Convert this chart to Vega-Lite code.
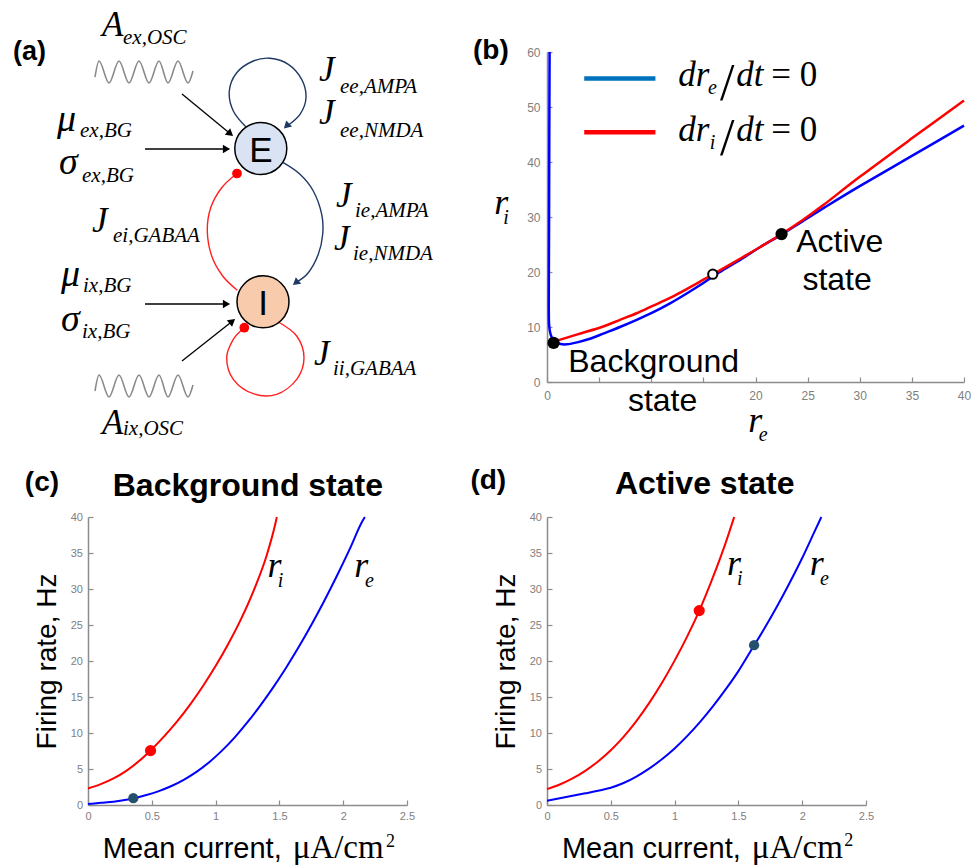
{
"$schema": "https://vega.github.io/schema/vega-lite/v6.json",
"background": "white",
"padding": {"left": 13, "top": 8, "right": 0, "bottom": 0},
"columns": 2,
"align": "none",
"bounds": "flush",
"spacing": {"row": 135, "column": 140},
"config": {
  "view": {"stroke": null},
  "font": "Liberation Sans",
  "axis": {"grid": false, "domainColor": "#8c8c8c", "domainWidth": 1.5, "tickColor": "#8c8c8c", "tickWidth": 1.2, "tickSize": -5, "labelColor": "#808080", "labelFont": "Liberation Sans", "labelFontSize": 11, "labelPadding": 10.5, "labelFlush": false, "labelOverlap": false}
},
"concat": [
{
  "width": 318, "height": 330,
  "encoding": {
    "x": {"field":"x","type":"quantitative","scale":{"domain":[88,406],"nice":false,"zero":false},"axis":null},
    "y": {"field":"y","type":"quantitative","scale":{"domain":[51,381],"nice":false,"zero":false,"reverse":true},"axis":null}
  },
  "layer": [
    {"data": {"values": [
      {"w":"top","x":95,"y":76},{"w":"top","x":99,"y":60},{"w":"top","x":109,"y":82},{"w":"top","x":119,"y":60},{"w":"top","x":129,"y":82},{"w":"top","x":139,"y":60},{"w":"top","x":149,"y":82},{"w":"top","x":159,"y":60},{"w":"top","x":168,"y":82},{"w":"top","x":178,"y":60},{"w":"top","x":188,"y":82},{"w":"top","x":193,"y":70},
      {"w":"bot","x":95,"y":390},{"w":"bot","x":99,"y":374},{"w":"bot","x":109,"y":396},{"w":"bot","x":119,"y":374},{"w":"bot","x":129,"y":396},{"w":"bot","x":139,"y":374},{"w":"bot","x":149,"y":396},{"w":"bot","x":159,"y":374},{"w":"bot","x":168,"y":396},{"w":"bot","x":178,"y":374},{"w":"bot","x":188,"y":396},{"w":"bot","x":193,"y":384}
    ]},
     "mark": {"type": "line", "interpolate": "monotone", "stroke": "#8a8a8a", "strokeWidth": 1.6},
     "encoding": {"detail": {"field":"w"}}},
    {"data": {"values": [
      {"link":"ee","i":0,"x":246.7,"y":126.7},{"link":"ee","i":1,"x":233.3,"y":110},{"link":"ee","i":2,"x":229.3,"y":90},{"link":"ee","i":3,"x":236.7,"y":71.7},{"link":"ee","i":4,"x":253.3,"y":60},{"link":"ee","i":5,"x":270,"y":57.3},{"link":"ee","i":6,"x":288.3,"y":63.3},{"link":"ee","i":7,"x":301.7,"y":78.3},{"link":"ee","i":8,"x":306,"y":96.7},{"link":"ee","i":9,"x":300,"y":113.3},{"link":"ee","i":10,"x":287,"y":125},
      {"link":"ie","i":0,"x":283.3,"y":161.7},{"link":"ie","i":1,"x":300,"y":173.3},{"link":"ie","i":2,"x":313.3,"y":190},{"link":"ie","i":3,"x":321.7,"y":213.3},{"link":"ie","i":4,"x":322.7,"y":233.3},{"link":"ie","i":5,"x":318.3,"y":253.3},{"link":"ie","i":6,"x":308.3,"y":271.7},{"link":"ie","i":7,"x":296,"y":281.5}
    ]},
     "mark": {"type": "line", "interpolate": "cardinal", "stroke": "#1f3864", "strokeWidth": 1.4},
     "encoding": {"detail": {"field":"link"}, "order": {"field":"i"}}},
    {"data": {"values": [
      {"link":"ei","i":0,"x":237.3,"y":289.3},{"link":"ei","i":1,"x":222.7,"y":275},{"link":"ei","i":2,"x":211.7,"y":255},{"link":"ei","i":3,"x":207.3,"y":230},{"link":"ei","i":4,"x":210.7,"y":206.7},{"link":"ei","i":5,"x":221.7,"y":186.7},{"link":"ei","i":6,"x":237,"y":172.5},
      {"link":"ii","i":0,"x":244.3,"y":326.7},{"link":"ii","i":1,"x":233.3,"y":338.3},{"link":"ii","i":2,"x":226.7,"y":356.7},{"link":"ii","i":3,"x":233.3,"y":378.3},{"link":"ii","i":4,"x":253.3,"y":392.7},{"link":"ii","i":5,"x":276.7,"y":393.3},{"link":"ii","i":6,"x":296.7,"y":378.3},{"link":"ii","i":7,"x":304,"y":356.7},{"link":"ii","i":8,"x":296.7,"y":335},{"link":"ii","i":9,"x":278.3,"y":321}
    ]},
     "mark": {"type": "line", "interpolate": "cardinal", "stroke": "#ff2020", "strokeWidth": 1.4},
     "encoding": {"detail": {"field":"link"}, "order": {"field":"i"}}},
    {"data": {"values": [
      {"x":182,"y":93,"x2":230.3,"y2":132.8},
      {"x":145,"y":148,"x2":226.5,"y2":148},
      {"x":145,"y":303,"x2":226.5,"y2":303},
      {"x":182,"y":360,"x2":232.3,"y2":320.2}
    ]},
     "mark": {"type": "rule", "stroke": "black", "strokeWidth": 1.3},
     "encoding": {"x2": {"field":"x2"}, "y2": {"field":"y2"}}},
    {"data": {"values": [
      {"x":230.3,"y":132.8,"dir":129.5},
      {"x":226.5,"y":148,"dir":90},
      {"x":226.5,"y":303,"dir":90},
      {"x":232.3,"y":320.2,"dir":51.6}
    ]},
     "mark": {"type": "point", "shape": "triangle-up", "filled": true, "fill": "black", "size": 70, "opacity": 1},
     "encoding": {"angle": {"field":"dir","type":"quantitative","scale":null}}},
    {"data": {"values": [
      {"x":286.5,"y":125.1,"dir":226.3},
      {"x":295.7,"y":281.8,"dir":230.4}
    ]},
     "mark": {"type": "point", "shape": "triangle-up", "filled": true, "fill": "#1f3864", "size": 70, "opacity": 1},
     "encoding": {"angle": {"field":"dir","type":"quantitative","scale":null}}},
    {"data": {"values": [{"x":237,"y":172.5},{"x":244.3,"y":326.7}]},
     "mark": {"type": "circle", "fill": "#ff0000", "size": 95, "opacity": 1}},
    {"data": {"values": [{"node":"E","x":260.8,"y":147.5},{"node":"I","x":263,"y":300.8}]},
     "mark": {"type": "point", "shape": "circle", "filled": true, "size": 2704, "stroke": "black", "strokeWidth": 1.5, "opacity": 1},
     "encoding": {"fill": {"field":"node","type":"nominal","scale":{"domain":["E","I"],"range":["#dae3f3","#f8cbad"]},"legend":null}}},
    {"data": {"values": [{"node":"E","x":260.8,"y":147.5},{"node":"I","x":263,"y":300.8}]},
     "mark": {"type": "text", "font": "Liberation Sans", "fontSize": 35, "align": "center", "baseline": "middle", "fill": "black", "dy": 2},
     "encoding": {"text": {"field":"node"}}},
    {"data": {"values": [
      {"t":"A","x":102,"y":35},{"t":"J","x":319,"y":80},{"t":"J","x":319,"y":123},
      {"t":"J","x":92,"y":231},{"t":"J","x":336,"y":206},{"t":"J","x":334,"y":249},
      {"t":"J","x":314,"y":364},{"t":"A","x":102,"y":433}
    ]},
     "mark": {"type": "text", "font": "Liberation Serif", "fontStyle": "italic", "fontSize": 35, "align": "left", "baseline": "alphabetic", "fill": "black"},
     "encoding": {"text": {"field":"t"}}},
    {"data": {"values": [
      {"t":"μ","x":57,"y":130},{"t":"σ","x":59,"y":173},{"t":"μ","x":61,"y":285},{"t":"σ","x":61,"y":330}
    ]},
     "mark": {"type": "text", "font": "Liberation Serif", "fontStyle": "italic", "fontSize": 38, "align": "left", "baseline": "alphabetic", "fill": "black"},
     "encoding": {"text": {"field":"t"}}},
    {"data": {"values": [
      {"t":"ex,OSC","x":123,"y":43},{"t":"ee,AMPA","x":340,"y":92},{"t":"ee,NMDA","x":340,"y":136},{"t":"ex,BG","x":80,"y":136},{"t":"ex,BG","x":82,"y":181},
      {"t":"ei,GABAA","x":113,"y":241},{"t":"ie,AMPA","x":355,"y":216},{"t":"ie,NMDA","x":353,"y":259},{"t":"ix,BG","x":83,"y":291},{"t":"ix,BG","x":82,"y":337},
      {"t":"ii,GABAA","x":333,"y":374},{"t":"ix,OSC","x":123,"y":434}
    ]},
     "mark": {"type": "text", "font": "Liberation Serif", "fontStyle": "italic", "fontSize": 21, "align": "left", "baseline": "alphabetic", "fill": "black"},
     "encoding": {"text": {"field":"t"}}},
    {"data": {"values": [{"t":"(a)","x":13,"y":59}]},
     "mark": {"type": "text", "font": "Liberation Sans", "fontWeight": "bold", "fontSize": 27, "align": "left", "baseline": "alphabetic", "fill": "black"},
     "encoding": {"text": {"field":"t"}}}
  ]
},
{
  "width": 417, "height": 330,
  "encoding": {
    "x": {"field":"x","type":"quantitative","scale":{"domain":[0,40],"nice":false,"zero":false},"axis":{"values":[0,5,10,15,20,25,30,35,40],"labelExpr":"datum.value==5||datum.value==10||datum.value==15 ? '' : datum.label","title":null,"labelFontSize":12,"labelPadding":13}},
    "y": {"field":"y","type":"quantitative","scale":{"domain":[0,60],"nice":false,"zero":false},"axis":{"values":[0,10,20,30,40,50,60],"title":null,"labelFontSize":12,"labelPadding":12}}
  },
  "layer": [
    {"data": {"values": [
      {"s":"e","i":0,"x":0.25,"y":60},{"s":"e","i":1,"x":0.22,"y":45},{"s":"e","i":2,"x":0.2,"y":30},{"s":"e","i":3,"x":0.18,"y":20},{"s":"e","i":4,"x":0.17,"y":14},{"s":"e","i":5,"x":0.2,"y":10.5},{"s":"e","i":6,"x":0.35,"y":8.6},{"s":"e","i":7,"x":0.7,"y":7.4},{"s":"e","i":8,"x":1.2,"y":6.95},{"s":"e","i":9,"x":1.9,"y":6.85},{"s":"e","i":10,"x":3,"y":7.25},{"s":"e","i":11,"x":4.2,"y":7.9},{"s":"e","i":12,"x":5.4,"y":8.8},{"s":"e","i":13,"x":7,"y":10},{"s":"e","i":14,"x":8.6,"y":11.3},{"s":"e","i":15,"x":10.2,"y":12.7},{"s":"e","i":16,"x":11.8,"y":14.3},{"s":"e","i":17,"x":13.4,"y":16.1},{"s":"e","i":18,"x":15,"y":18},{"s":"e","i":19,"x":16.5,"y":19.9},{"s":"e","i":20,"x":18.6,"y":22.3},{"s":"e","i":21,"x":20.5,"y":24.6},{"s":"e","i":22,"x":22.5,"y":26.8},{"s":"e","i":23,"x":24.5,"y":29.2},{"s":"e","i":24,"x":26.6,"y":31.7},{"s":"e","i":25,"x":30,"y":35.6},{"s":"e","i":26,"x":35,"y":41.1},{"s":"e","i":27,"x":40,"y":46.6},
      {"s":"i","i":0,"x":0.3,"y":7.15},{"s":"i","i":1,"x":1.2,"y":7.65},{"s":"i","i":2,"x":3,"y":8.7},{"s":"i","i":3,"x":5.4,"y":10.1},{"s":"i","i":4,"x":7,"y":11.3},{"s":"i","i":5,"x":8.6,"y":12.5},{"s":"i","i":6,"x":10.2,"y":13.9},{"s":"i","i":7,"x":11.8,"y":15.3},{"s":"i","i":8,"x":13.4,"y":16.9},{"s":"i","i":9,"x":15,"y":18.6},{"s":"i","i":10,"x":16.5,"y":20.2},{"s":"i","i":11,"x":18.6,"y":22.5},{"s":"i","i":12,"x":20.5,"y":24.6},{"s":"i","i":13,"x":22.5,"y":26.9},{"s":"i","i":14,"x":24.5,"y":29.4},{"s":"i","i":15,"x":26.6,"y":32.3},{"s":"i","i":16,"x":30,"y":37.3},{"s":"i","i":17,"x":35,"y":44.3},{"s":"i","i":18,"x":40,"y":51.2}
    ]},
     "mark": {"type": "line", "interpolate": "cardinal", "strokeWidth": 2.5},
     "encoding": {
       "color": {"field":"s","type":"nominal","scale":{"domain":["e","i"],"range":["#0000ff","#ff0000"]},"legend":null},
       "order": {"field":"i"}
     }},
    {"data": {"values": [{"x":3.57,"x2":10.4,"y":55.2}]},
     "mark": {"type": "rule", "stroke": "#0072bd", "strokeWidth": 4.5},
     "encoding": {"x2": {"field":"x2"}}},
    {"data": {"values": [{"x":3.57,"x2":10.4,"y":45.4}]},
     "mark": {"type": "rule", "stroke": "#ff0000", "strokeWidth": 4.5},
     "encoding": {"x2": {"field":"x2"}}},
    {"data": {"values": [{"x":0.63,"y":7.1},{"x":22.5,"y":26.9}]},
     "mark": {"type": "circle", "fill": "black", "size": 150, "opacity": 1}},
    {"data": {"values": [{"x":15.9,"y":19.6}]},
     "mark": {"type": "point", "shape": "circle", "filled": true, "fill": "white", "stroke": "black", "strokeWidth": 2, "size": 85, "opacity": 1}},
    {"data": {"values": [{"t":"Background","x":2.04,"y":1.8},{"t":"state","x":7.76,"y":-5.2},{"t":"Active","x":23.9,"y":23.7},{"t":"state","x":24.5,"y":16.8}]},
     "mark": {"type":"text","font":"Liberation Sans","fontSize":32,"align":"left","baseline":"alphabetic","fill":"black"},
     "encoding": {"text": {"field":"t"}}},
    {"data": {"values": [{"t":"(b)","x":-7.1,"y":58.8}]},
     "mark": {"type":"text","font":"Liberation Sans","fontWeight":"bold","fontSize":28,"align":"left","baseline":"alphabetic","fill":"black"},
     "encoding": {"text": {"field":"t"}}},
    {"data": {"values": [{"t":"r","x":-5.06,"y":30.5},{"t":"r","x":19.3,"y":-9.0}]},
     "mark": {"type":"text","font":"Liberation Serif","fontStyle":"italic","fontSize":36,"align":"left","baseline":"alphabetic","fill":"black"},
     "encoding": {"text": {"field":"t"}}},
    {"data": {"values": [{"t":"i","x":-4.2,"y":28.7},{"t":"e","x":20.3,"y":-10.8},{"t":"e","x":15.45,"y":52.3},{"t":"i","x":15.6,"y":42.3}]},
     "mark": {"type":"text","font":"Liberation Serif","fontStyle":"italic","fontSize":20,"align":"left","baseline":"alphabetic","fill":"black"},
     "encoding": {"text": {"field":"t"}}},
    {"data": {"values": [{"t":"dr","x":12.6,"y":53.8},{"t":"dt","x":18.15,"y":53.8},{"t":"dr","x":12.6,"y":43.8},{"t":"dt","x":18.15,"y":43.8}]},
     "mark": {"type":"text","font":"Liberation Serif","fontStyle":"italic","fontSize":35,"align":"left","baseline":"alphabetic","fill":"black"},
     "encoding": {"text": {"field":"t"}}},
    {"data": {"values": [{"t":"= 0","x":21.5,"y":53.8},{"t":"= 0","x":21.5,"y":43.8}]},
     "mark": {"type":"text","font":"Liberation Serif","fontSize":35,"align":"left","baseline":"alphabetic","fill":"black"},
     "encoding": {"text": {"field":"t"}}},
    {"data": {"values": [{"t":"/","x":16.6,"y":51.2},{"t":"/","x":16.6,"y":41.2}]},
     "mark": {"type":"text","font":"Liberation Serif","fontSize":52,"align":"left","baseline":"alphabetic","fill":"black"},
     "encoding": {"text": {"field":"t"}}}
  ]
},
{
  "width": 319, "height": 288,
  "encoding": {
    "x": {"field":"x","type":"quantitative","scale":{"domain":[0,2.5],"nice":false,"zero":false},"axis":{"values":[0,0.5,1,1.5,2,2.5],"format":"~g","title":null}},
    "y": {"field":"y","type":"quantitative","scale":{"domain":[0,40],"nice":false,"zero":false},"axis":{"values":[0,5,10,15,20,25,30,35,40],"title":"Firing rate, Hz","titleFont":"Liberation Sans","titleFontSize":28,"titleFontWeight":"normal","titleColor":"black","titlePadding":9}}
  },
  "layer": [
    {"data": {"values": [
      {"s":"i","x":0,"y":2.3},{"s":"i","x":0.1,"y":2.9},{"s":"i","x":0.2,"y":3.7},{"s":"i","x":0.3,"y":4.75},{"s":"i","x":0.4,"y":6.1},{"s":"i","x":0.5,"y":7.75},{"s":"i","x":0.6,"y":9.6},{"s":"i","x":0.7,"y":11.65},{"s":"i","x":0.8,"y":13.95},{"s":"i","x":0.9,"y":16.5},{"s":"i","x":1.0,"y":19.3},{"s":"i","x":1.1,"y":22.4},{"s":"i","x":1.2,"y":25.85},{"s":"i","x":1.3,"y":29.85},{"s":"i","x":1.4,"y":34.65},{"s":"i","x":1.47,"y":39.2},{"s":"i","x":1.48,"y":40},
      {"s":"e","x":0,"y":0.15},{"s":"e","x":0.1,"y":0.3},{"s":"e","x":0.2,"y":0.45},{"s":"e","x":0.3,"y":0.72},{"s":"e","x":0.36,"y":0.95},{"s":"e","x":0.45,"y":1.35},{"s":"e","x":0.55,"y":1.9},{"s":"e","x":0.65,"y":2.6},{"s":"e","x":0.75,"y":3.5},{"s":"e","x":0.85,"y":4.6},{"s":"e","x":0.95,"y":5.95},{"s":"e","x":1.05,"y":7.55},{"s":"e","x":1.15,"y":9.4},{"s":"e","x":1.25,"y":11.5},{"s":"e","x":1.35,"y":13.8},{"s":"e","x":1.45,"y":16.3},{"s":"e","x":1.55,"y":19.0},{"s":"e","x":1.65,"y":21.9},{"s":"e","x":1.75,"y":25.0},{"s":"e","x":1.85,"y":28.3},{"s":"e","x":1.95,"y":31.8},{"s":"e","x":2.05,"y":35.5},{"s":"e","x":2.15,"y":39.4},{"s":"e","x":2.17,"y":40}
    ]},
     "mark": {"type": "line", "interpolate": "monotone", "strokeWidth": 2},
     "encoding": {"color": {"field":"s","type":"nominal","scale":{"domain":["e","i"],"range":["#0000ff","#ff0000"]},"legend":null}}},
    {"data": {"values": [{"x":0.49,"y":7.55}]},
     "mark": {"type": "circle", "size": 125, "fill": "#ff0000", "opacity": 1}},
    {"data": {"values": [{"x":0.355,"y":0.95}]},
     "mark": {"type": "circle", "size": 105, "fill": "#24506e", "opacity": 1}},
    {"data": {"values": [{"t":"(c)","x":-0.495,"y":43.6}]},
     "mark": {"type":"text","font":"Liberation Sans","fontWeight":"bold","fontSize":28,"align":"left","baseline":"alphabetic","fill":"black"},
     "encoding": {"text": {"field":"t"}}},
    {"data": {"values": [{"t":"Background state","x":1.253,"y":42.9}]},
     "mark": {"type":"text","font":"Liberation Sans","fontWeight":"bold","fontSize":32,"align":"center","baseline":"alphabetic","fill":"black"},
     "encoding": {"text": {"field":"t"}}},
    {"data": {"values": [{"t":"r","x":1.406,"y":31.7},{"t":"r","x":2.087,"y":31.7}]},
     "mark": {"type":"text","font":"Liberation Serif","fontStyle":"italic","fontSize":36,"align":"left","baseline":"alphabetic","fill":"black"},
     "encoding": {"text": {"field":"t"}}},
    {"data": {"values": [{"t":"i","x":1.487,"y":30.3},{"t":"e","x":2.17,"y":30.3}]},
     "mark": {"type":"text","font":"Liberation Serif","fontStyle":"italic","fontSize":20,"align":"left","baseline":"alphabetic","fill":"black"},
     "encoding": {"text": {"field":"t"}}},
    {"data": {"values": [{"t":"Mean current,","x":0.116,"y":-7.4}]},
     "mark": {"type":"text","font":"Liberation Sans","fontSize":29,"align":"left","baseline":"alphabetic","fill":"black"},
     "encoding": {"text": {"field":"t"}}},
    {"data": {"values": [{"t":"μA/cm","x":1.604,"y":-7.4}]},
     "mark": {"type":"text","font":"Liberation Serif","fontSize":33,"align":"left","baseline":"alphabetic","fill":"black"},
     "encoding": {"text": {"field":"t"}}},
    {"data": {"values": [{"t":"2","x":2.335,"y":-5.8}]},
     "mark": {"type":"text","font":"Liberation Serif","fontSize":18,"align":"left","baseline":"alphabetic","fill":"black"},
     "encoding": {"text": {"field":"t"}}}
  ]
},
{
  "width": 319, "height": 288,
  "encoding": {
    "x": {"field":"x","type":"quantitative","scale":{"domain":[0,2.5],"nice":false,"zero":false},"axis":{"values":[0,0.5,1,1.5,2,2.5],"format":"~g","title":null}},
    "y": {"field":"y","type":"quantitative","scale":{"domain":[0,40],"nice":false,"zero":false},"axis":{"values":[0,5,10,15,20,25,30,35,40],"title":"Firing rate, Hz","titleFont":"Liberation Sans","titleFontSize":28,"titleFontWeight":"normal","titleColor":"black","titlePadding":9}}
  },
  "layer": [
    {"data": {"values": [
      {"s":"i","x":0,"y":2.2},{"s":"i","x":0.1,"y":2.85},{"s":"i","x":0.2,"y":3.7},{"s":"i","x":0.3,"y":4.75},{"s":"i","x":0.4,"y":6.05},{"s":"i","x":0.5,"y":7.6},{"s":"i","x":0.6,"y":9.45},{"s":"i","x":0.7,"y":11.65},{"s":"i","x":0.8,"y":14.15},{"s":"i","x":0.9,"y":16.95},{"s":"i","x":1.0,"y":20.05},{"s":"i","x":1.1,"y":23.45},{"s":"i","x":1.2,"y":27.25},{"s":"i","x":1.3,"y":31.6},{"s":"i","x":1.4,"y":36.4},{"s":"i","x":1.467,"y":40},
      {"s":"e","x":0,"y":0.6},{"s":"e","x":0.1,"y":0.93},{"s":"e","x":0.2,"y":1.27},{"s":"e","x":0.3,"y":1.62},{"s":"e","x":0.4,"y":1.98},{"s":"e","x":0.5,"y":2.4},{"s":"e","x":0.6,"y":3.05},{"s":"e","x":0.7,"y":3.95},{"s":"e","x":0.8,"y":5.05},{"s":"e","x":0.9,"y":6.35},{"s":"e","x":1.0,"y":7.85},{"s":"e","x":1.1,"y":9.6},{"s":"e","x":1.2,"y":11.55},{"s":"e","x":1.3,"y":13.7},{"s":"e","x":1.4,"y":16.05},{"s":"e","x":1.5,"y":18.6},{"s":"e","x":1.6,"y":21.5},{"s":"e","x":1.7,"y":24.4},{"s":"e","x":1.8,"y":27.5},{"s":"e","x":1.9,"y":30.8},{"s":"e","x":2.0,"y":34.3},{"s":"e","x":2.1,"y":38.1},{"s":"e","x":2.15,"y":40}
    ]},
     "mark": {"type": "line", "interpolate": "monotone", "strokeWidth": 2},
     "encoding": {"color": {"field":"s","type":"nominal","scale":{"domain":["e","i"],"range":["#0000ff","#ff0000"]},"legend":null}}},
    {"data": {"values": [{"x":1.193,"y":27.0}]},
     "mark": {"type": "circle", "size": 125, "fill": "#ff0000", "opacity": 1}},
    {"data": {"values": [{"x":1.623,"y":22.2}]},
     "mark": {"type": "circle", "size": 105, "fill": "#24506e", "opacity": 1}},
    {"data": {"values": [{"t":"(d)","x":-0.6,"y":43.9}]},
     "mark": {"type":"text","font":"Liberation Sans","fontWeight":"bold","fontSize":28,"align":"left","baseline":"alphabetic","fill":"black"},
     "encoding": {"text": {"field":"t"}}},
    {"data": {"values": [{"t":"Active state","x":1.236,"y":43.2}]},
     "mark": {"type":"text","font":"Liberation Sans","fontWeight":"bold","fontSize":32,"align":"center","baseline":"alphabetic","fill":"black"},
     "encoding": {"text": {"field":"t"}}},
    {"data": {"values": [{"t":"r","x":1.41,"y":31.9},{"t":"r","x":2.06,"y":31.9}]},
     "mark": {"type":"text","font":"Liberation Serif","fontStyle":"italic","fontSize":36,"align":"left","baseline":"alphabetic","fill":"black"},
     "encoding": {"text": {"field":"t"}}},
    {"data": {"values": [{"t":"i","x":1.49,"y":30.5},{"t":"e","x":2.14,"y":30.5}]},
     "mark": {"type":"text","font":"Liberation Serif","fontStyle":"italic","fontSize":20,"align":"left","baseline":"alphabetic","fill":"black"},
     "encoding": {"text": {"field":"t"}}},
    {"data": {"values": [{"t":"Mean current,","x":0.117,"y":-7.34}]},
     "mark": {"type":"text","font":"Liberation Sans","fontSize":29,"align":"left","baseline":"alphabetic","fill":"black"},
     "encoding": {"text": {"field":"t"}}},
    {"data": {"values": [{"t":"μA/cm","x":1.605,"y":-7.34}]},
     "mark": {"type":"text","font":"Liberation Serif","fontSize":33,"align":"left","baseline":"alphabetic","fill":"black"},
     "encoding": {"text": {"field":"t"}}},
    {"data": {"values": [{"t":"2","x":2.33,"y":-5.7}]},
     "mark": {"type":"text","font":"Liberation Serif","fontSize":18,"align":"left","baseline":"alphabetic","fill":"black"},
     "encoding": {"text": {"field":"t"}}}
  ]
}
]
}
